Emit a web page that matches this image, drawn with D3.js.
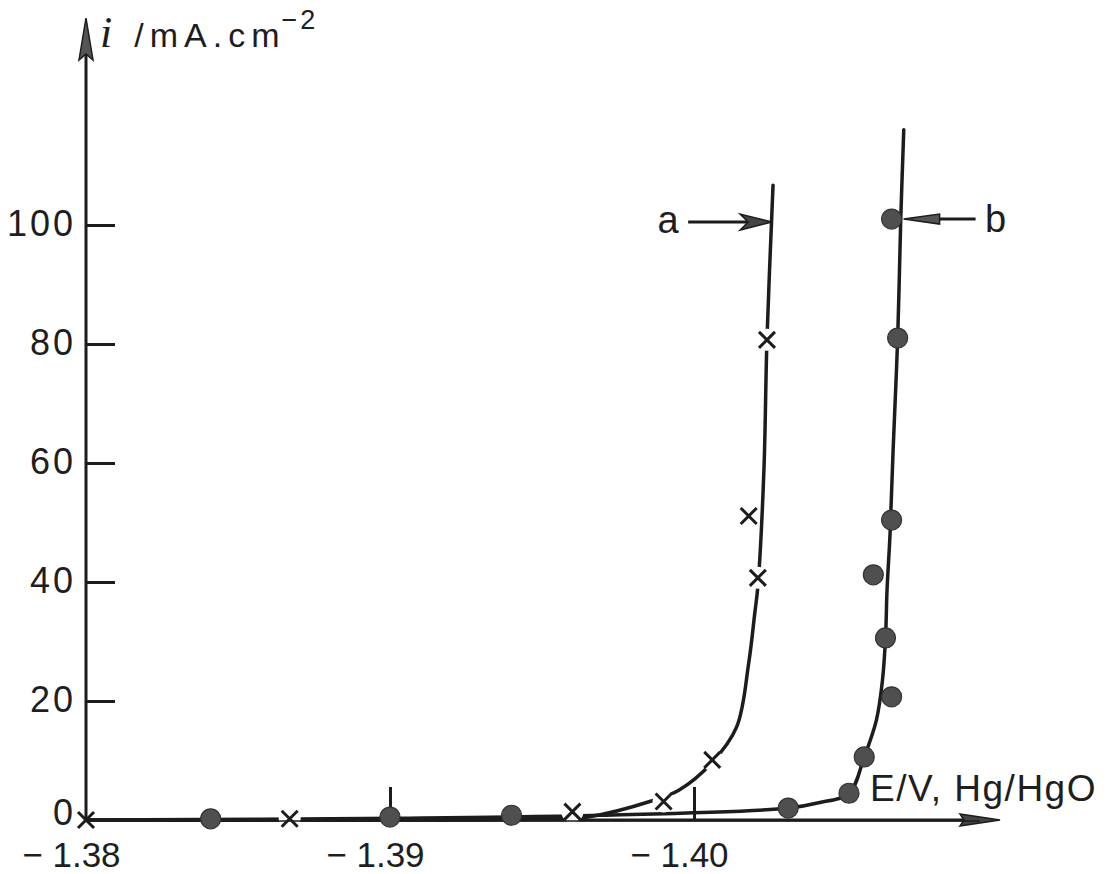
<!DOCTYPE html>
<html><head><meta charset="utf-8">
<script src="https://cdn.jsdelivr.net/npm/d3@7"></script>
<style>
html,body{margin:0;padding:0;background:#fff;}
svg{display:block;}
text{font-family:"Liberation Sans",Arial,sans-serif;fill:#1e1e1e;}
</style></head><body>
<svg id="chart" width="1114" height="874"></svg>
<script>
// ---- data ----
const xTickValues = [-1.38, -1.39, -1.40];
const xTickLabels = ["− 1.38", "− 1.39", "− 1.40"];
const yTickValues = [0, 20, 40, 60, 80, 100];
const yTickLabels = ["0", "20", "40", "60", "80", "100"];
const xAxisTitle = "E/V, Hg/HgO";
const yAxisSymbol = "i";
const yAxisUnit = "/mA.cm";
const yAxisExp = "−2";
const seriesNames = ["a", "b"];

// series a: measured points (crosses)
const aE = [-1.3800, -1.3867, -1.3960, -1.3990, -1.4006, -1.4021, -1.4018, -1.4024];
const aI = [0, 0.2, 1.4, 3.1, 10.1, 40.7, 51.1, 80.7];
// series a: drawn curve
const aCurveE = [-1.3800, -1.3955, -1.3965, -1.3986, -1.3995, -1.4006, -1.4014, -1.4018, -1.4020, -1.4021, -1.4023, -1.4024, -1.4026];
const aCurveI = [0, 0.2, 0.5, 3.2, 5.0, 9.7, 15.6, 26.4, 34.8, 39.2, 58.8, 80.7, 106.7];

// series b: measured points (dots)
const bE = [-1.3841, -1.3900, -1.3940, -1.4031, -1.4051, -1.4056, -1.4065, -1.4063, -1.4059, -1.4065, -1.4067, -1.4065];
const bI = [0.2, 0.5, 0.8, 2.0, 4.5, 10.6, 20.7, 30.6, 41.2, 50.4, 81.0, 101.0];
// series b: drawn curve
const bCurveE = [-1.3800, -1.3903, -1.3969, -1.4031, -1.4041, -1.4051, -1.4056, -1.4060, -1.4062, -1.4063, -1.40635, -1.40645, -1.40655, -1.4067, -1.4068, -1.4069];
const bCurveI = [0, 0.3, 0.8, 2.0, 2.9, 4.5, 10.6, 16.8, 23.5, 30.6, 38.7, 48.2, 62.2, 81.0, 100.8, 116];

// label anchor values (where the arrows point)
const aLabelE = -1.40257, aLabelI = 100.5;
const bLabelE = -1.4065, bLabelI = 101.0;

// ---- drawing ----
const ink = "#1c1c1c";
const svg = d3.select("#chart");
const x = d3.scaleLinear().domain([-1.38, -1.41]).range([86, 998]);
const y = d3.scaleLinear().domain([0, 100]).range([820, 225]);

const line = d3.line().x(d => x(d[0])).y(d => y(d[1])).curve(d3.curveCatmullRom.alpha(0.5));

// curves
svg.append("path").datum(aCurveE.map((e, k) => [e, aCurveI[k]]))
  .attr("d", line).attr("fill", "none").attr("stroke", ink).attr("stroke-width", 3.5).attr("stroke-linecap", "round");
svg.append("path").datum(bCurveE.map((e, k) => [e, bCurveI[k]]))
  .attr("d", line).attr("fill", "none").attr("stroke", ink).attr("stroke-width", 3.5).attr("stroke-linecap", "round");

// axes lines + arrows
const x0 = x(-1.38), y0 = y(0);
const xEnd = 1000, yTop = 18;
svg.append("line").attr("x1", x0).attr("x2", xEnd - 20).attr("y1", y0).attr("y2", y0)
  .attr("stroke", ink).attr("stroke-width", 3);
svg.append("path").attr("d", `M${xEnd},${y0}L${xEnd - 40},${y0 - 6}L${xEnd - 36},${y0}L${xEnd - 40},${y0 + 6}Z`)
  .attr("fill", "#444").attr("stroke", ink).attr("stroke-width", 1.5);
svg.append("line").attr("x1", x0).attr("x2", x0).attr("y1", y0 + 2).attr("y2", yTop + 20)
  .attr("stroke", ink).attr("stroke-width", 3);
svg.append("path").attr("d", `M${x0},${yTop}L${x0 - 7},${yTop + 42}L${x0},${yTop + 36}L${x0 + 7},${yTop + 42}Z`)
  .attr("fill", "#555").attr("stroke", ink).attr("stroke-width", 1.5);

// y axis ticks
const yAxis = svg.append("g").attr("transform", `translate(${x0},0)`)
  .call(d3.axisLeft(y).tickValues(yTickValues).tickFormat((d, k) => yTickLabels[k])
    .tickSizeInner(-29).tickSizeOuter(0).tickPadding(10));
yAxis.select(".domain").remove();
yAxis.selectAll(".tick line").attr("stroke", ink).attr("stroke-width", 3)
  .attr("display", d => d === 0 ? "none" : null);
yAxis.selectAll(".tick text").attr("font-size", 36).attr("font-family", "Liberation Sans, Arial, sans-serif")
  .attr("fill", "#1e1e1e").attr("letter-spacing", 3).attr("dy", d => d === 0 ? "0.12em" : "0.3em");

// x axis ticks
const xAxis = svg.append("g").attr("transform", `translate(0,${y0})`)
  .call(d3.axisBottom(x).tickValues(xTickValues).tickFormat((d, k) => xTickLabels[k])
    .tickSizeInner(-33).tickSizeOuter(0).tickPadding(22));
xAxis.select(".domain").remove();
xAxis.selectAll(".tick line").attr("stroke", ink).attr("stroke-width", 3)
  .attr("display", d => d === -1.38 ? "none" : null);
xAxis.selectAll(".tick text").attr("font-size", 35).attr("font-family", "Liberation Sans, Arial, sans-serif")
  .attr("fill", "#1e1e1e").attr("text-anchor", "start")
  .each(function () {
    const full = this.getComputedTextLength();
    const n = this.textContent.length;
    const num = this.getSubStringLength(2, n - 2);
    d3.select(this).attr("x", -(full - num / 2));
  });

// halos (gaps in curves around crosses), crosses
const aPts = aE.map((e, k) => [e, aI[k]]);
svg.selectAll("circle.halo").data(aPts.slice(1)).join("circle").attr("class", "halo")
  .attr("cx", d => x(d[0])).attr("cy", d => y(d[1])).attr("r", 11).attr("fill", "#fff");
svg.append("line").attr("x1", x0).attr("x2", xEnd - 20).attr("y1", y0 + 1).attr("y2", y0 + 1)
  .attr("stroke", ink).attr("stroke-width", 1.5);
svg.selectAll("path.cross").data(aPts).join("path").attr("class", "cross")
  .attr("transform", d => `translate(${x(d[0])},${y(d[1])})`)
  .attr("d", "M-8,-8L8,8M-8,8L8,-8").attr("stroke", ink).attr("stroke-width", 3).attr("fill", "none");

// dots
svg.selectAll("circle.dot").data(bE.map((e, k) => [e, bI[k]])).join("circle").attr("class", "dot")
  .attr("cx", d => x(d[0])).attr("cy", d => y(d[1])).attr("r", 10)
  .attr("fill", "#4f4f4f").attr("stroke", "#333").attr("stroke-width", 1.2);

// series labels with arrows
const ax = x(aLabelE), ay = y(aLabelI);
svg.append("line").attr("x1", ax - 84).attr("x2", ax - 20).attr("y1", ay).attr("y2", ay).attr("stroke", ink).attr("stroke-width", 3);
svg.append("path").attr("d", `M${ax},${ay}L${ax - 32},${ay - 8}L${ax - 24},${ay}L${ax - 32},${ay + 8}Z`)
  .attr("fill", "#444").attr("stroke", ink).attr("stroke-width", 1.5);
svg.append("text").attr("x", ax - 104).attr("y", ay + 11).attr("text-anchor", "middle")
  .attr("font-size", 38).text(seriesNames[0]);

const bx = x(bLabelE) + 12, by = y(bLabelI);
svg.append("line").attr("x1", bx + 30).attr("x2", bx + 72).attr("y1", by).attr("y2", by).attr("stroke", ink).attr("stroke-width", 3);
svg.append("path").attr("d", `M${bx},${by}L${bx + 36},${by - 5}L${bx + 36},${by + 5}Z`)
  .attr("fill", "#555").attr("stroke", ink).attr("stroke-width", 1.5);
svg.append("text").attr("x", bx + 92).attr("y", by + 13).attr("text-anchor", "middle")
  .attr("font-size", 38).text(seriesNames[1]);

// axis titles
const t = svg.append("text").attr("x", 100).attr("y", 47).attr("font-size", 34).attr("letter-spacing", 6);
t.append("tspan").attr("font-family", "Liberation Serif, serif").attr("font-style", "italic")
  .attr("font-size", 44).attr("letter-spacing", 0).text(yAxisSymbol);
t.append("tspan").attr("dx", 22).text(yAxisUnit);
t.append("tspan").attr("dy", -18).attr("dx", -4).attr("font-size", 27).attr("letter-spacing", 3).text(yAxisExp);

svg.append("text").attr("x", 870).attr("y", 801).attr("font-size", 37).attr("letter-spacing", 1.5).text(xAxisTitle);
</script>
</body></html>
